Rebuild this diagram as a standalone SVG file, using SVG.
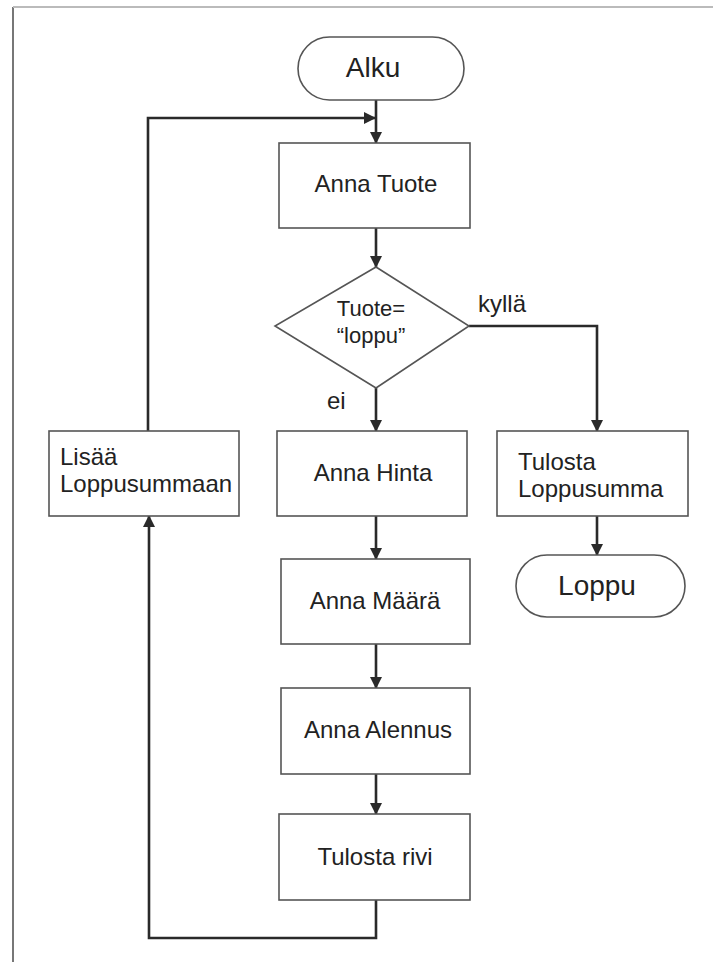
<svg xmlns="http://www.w3.org/2000/svg" width="713" height="962" viewBox="0 0 713 962">
<style>
text{font-family:"Liberation Sans",Arial,sans-serif;fill:#222;}
.box{fill:#fff;stroke:#555;stroke-width:1.6;}
.lbl{font-size:24px;text-anchor:middle;}
.dec{font-size:22px;text-anchor:middle;}
.ll{font-size:24px;}
.big{font-size:28px;text-anchor:middle;}
.con{fill:none;stroke:#2a2a2a;stroke-width:2.6;}
</style>
<defs>
<marker id="ah" markerWidth="12" markerHeight="12" refX="11" refY="6" orient="auto" markerUnits="userSpaceOnUse">
<path d="M0,0 L12,6 L0,12 Z" fill="#2a2a2a"/>
</marker>
</defs>
<rect width="713" height="962" fill="#fff"/>
<line x1="13" y1="7" x2="13" y2="962" stroke="#777" stroke-width="2"/>
<line x1="13" y1="7" x2="713" y2="7" stroke="#bbb" stroke-width="2"/>

<g id="connectors">
<path class="con" d="M376,100 V143" marker-end="url(#ah)"/>
<path class="con" d="M148,431 V118 H375" marker-end="url(#ah)"/>
<path class="con" d="M376,228 V267" marker-end="url(#ah)"/>
<path class="con" d="M376,388 V431" marker-end="url(#ah)"/>
<path class="con" d="M469,326 H597 V431" marker-end="url(#ah)"/>
<path class="con" d="M597,516 V555" marker-end="url(#ah)"/>
<path class="con" d="M376,516 V559" marker-end="url(#ah)"/>
<path class="con" d="M376,644 V688" marker-end="url(#ah)"/>
<path class="con" d="M376,774 V814" marker-end="url(#ah)"/>
<path class="con" d="M376,900 V938 H149 V516" marker-end="url(#ah)"/>
</g>

<g id="alku">
<rect class="box" x="298" y="37" width="166" height="63" rx="31.5"/>
<text class="big" x="373" y="77">Alku</text>
</g>
<g id="anna-tuote">
<rect class="box" x="279" y="143" width="191" height="85"/>
<text class="lbl" x="376" y="192">Anna Tuote</text>
</g>
<g id="decision">
<polygon class="box" points="376,267 469,326 376,388 275,326"/>
<text class="dec" x="371" y="316">Tuote=</text>
<text class="dec" x="371" y="343">“loppu”</text>
</g>
<g id="label-kylla"><text class="ll" x="478" y="312">kyllä</text></g>
<g id="label-ei"><text class="ll" x="327" y="409">ei</text></g>
<g id="anna-hinta">
<rect class="box" x="277" y="431" width="190" height="85"/>
<text class="lbl" x="373" y="481">Anna Hinta</text>
</g>
<g id="tulosta-loppusumma">
<rect class="box" x="497" y="431" width="191" height="85"/>
<text class="ll" x="518" y="470">Tulosta</text>
<text class="ll" x="518" y="497">Loppusumma</text>
</g>
<g id="loppu">
<rect class="box" x="516" y="555" width="169" height="62" rx="31"/>
<text class="big" x="597" y="595">Loppu</text>
</g>
<g id="lisaa">
<rect class="box" x="49" y="431" width="190" height="85"/>
<text class="ll" x="60" y="465">Lisää</text>
<text class="ll" x="60" y="492">Loppusummaan</text>
</g>
<g id="anna-maara">
<rect class="box" x="281" y="559" width="189" height="85"/>
<text class="lbl" x="375" y="609">Anna Määrä</text>
</g>
<g id="anna-alennus">
<rect class="box" x="281" y="688" width="189" height="86"/>
<text class="lbl" x="378" y="738">Anna Alennus</text>
</g>
<g id="tulosta-rivi">
<rect class="box" x="279" y="814" width="191" height="86"/>
<text class="lbl" x="375" y="865">Tulosta rivi</text>
</g>
</svg>
